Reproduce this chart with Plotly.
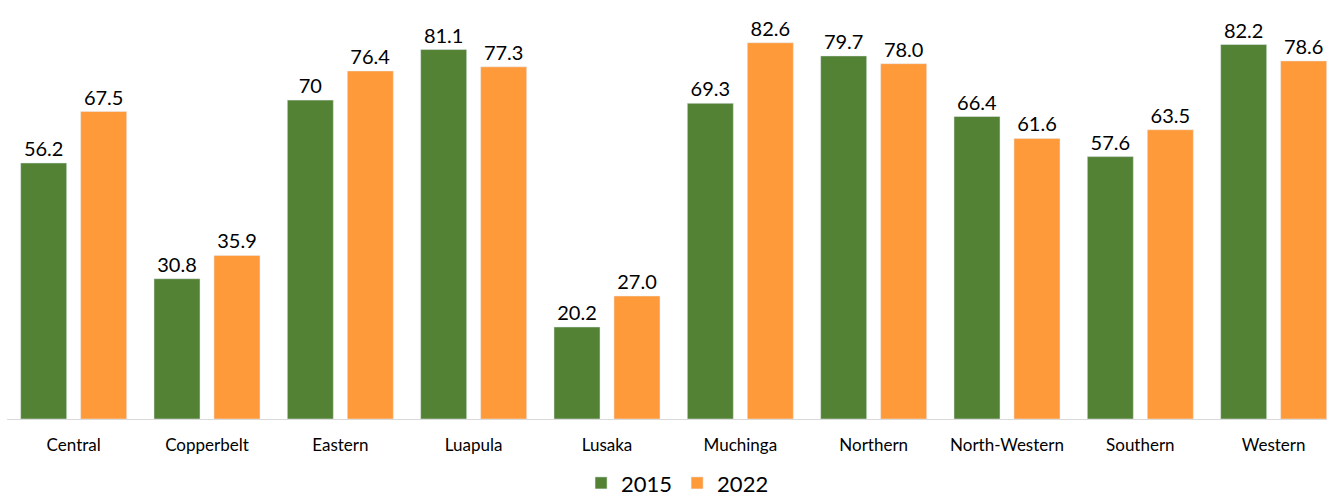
import plotly.graph_objects as go

provinces = ["Central", "Copperbelt", "Eastern", "Luapula", "Lusaka", "Muchinga",
             "Northern", "North-Western", "Southern", "Western"]
values_2015 = [56.2, 30.8, 70, 81.1, 20.2, 69.3, 79.7, 66.4, 57.6, 82.2]
labels_2015 = ["56.2", "30.8", "70", "81.1", "20.2", "69.3", "79.7", "66.4", "57.6", "82.2"]
values_2022 = [67.5, 35.9, 76.4, 77.3, 27.0, 82.6, 78.0, 61.6, 63.5, 78.6]
labels_2022 = ["67.5", "35.9", "76.4", "77.3", "27.0", "82.6", "78.0", "61.6", "63.5", "78.6"]

FONT = "Lato, 'Open Sans', sans-serif"

fig = go.Figure()
fig.add_trace(go.Bar(x=provinces, y=values_2015, name="2015", marker_color="#548235",
                     text=labels_2015, textposition="outside", cliponaxis=False,
                     textfont=dict(size=20, color="#000000", family=FONT)))
fig.add_trace(go.Bar(x=provinces, y=values_2022, name="2022", marker_color="#FF9A3A",
                     text=labels_2022, textposition="outside", cliponaxis=False,
                     textfont=dict(size=20, color="#000000", family=FONT)))

fig.update_layout(
    width=1327, height=495,
    margin=dict(l=7, r=0, t=9, b=76, autoexpand=False),
    plot_bgcolor="white", paper_bgcolor="white",
    barmode="group", bargap=0.1, bargroupgap=0.233,
    font=dict(family=FONT, color="#000000"),
    showlegend=True,
    legend=dict(orientation="h", x=0.508, xanchor="center",
                yref="container", y=0.024, yanchor="middle",
                font=dict(size=22, family=FONT), itemwidth=30, traceorder="normal"),
    xaxis=dict(showline=True, linecolor="#D9D9D9", linewidth=1, ticks="",
               range=[-0.5, 9.4], ticklabelstandoff=11, automargin=False,
               tickfont=dict(size=17, family=FONT), showgrid=False),
    yaxis=dict(range=[0, 90], visible=False, showgrid=False, automargin=False),
)
fig.add_annotation(text="Figure 3: Poverty Headcount by Province (2015, 2022)",
                   xref="paper", yref="paper", x=0.0, y=1.0, yshift=21,
                   xanchor="left", yanchor="bottom", showarrow=False,
                   font=dict(size=18, color="#E00000", family=FONT))

fig.write_html("out.html", config={"displayModeBar": False},
               post_script="document.body.style.margin='0';document.body.style.overflow='hidden';")
